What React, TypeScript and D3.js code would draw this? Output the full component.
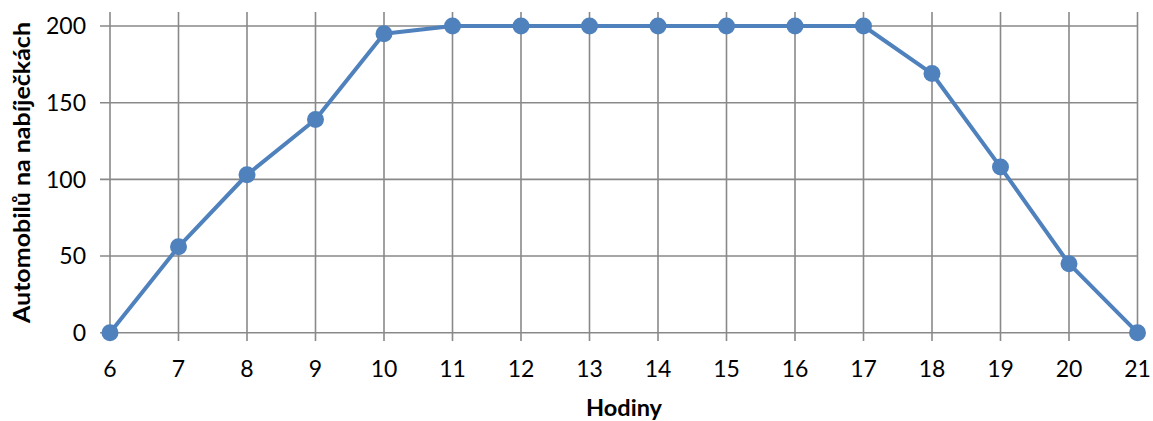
import React from "react";
import * as d3 from "d3";

const hours = [6, 7, 8, 9, 10, 11, 12, 13, 14, 15, 16, 17, 18, 19, 20, 21];
const cars = [0, 56, 103, 139, 195, 200, 200, 200, 200, 200, 200, 200, 169, 108, 45, 0];
const yTicks = [0, 50, 100, 150, 200];
const xTitle = "Hodiny";
const yTitle = "Automobilů na nabíječkách";

export default function App() {
  const W = 1153, H = 421;
  const x = d3.scaleLinear().domain([6, 21]).range([110, 1137.5]);
  const y = d3.scaleLinear().domain([0, 200]).range([332.7, 26]);
  const line = d3.line<number>().x((_, i) => x(hours[i])).y((d) => y(d));
  const font = "Lato, 'Open Sans', sans-serif";
  const grid = "#898989";
  const blue = "#4F81BD";
  return (
    <svg width={W} height={H} style={{ position: "absolute", left: 0, top: 0, background: "#fff" }} fontFamily={font}>
      {hours.map((h) => (
        <line key={"v" + h} x1={x(h)} x2={x(h)} y1={12} y2={341} stroke={grid} strokeWidth={1.6} />
      ))}
      {yTicks.map((t) => (
        <line key={"h" + t} x1={100} x2={x(21)} y1={y(t)} y2={y(t)} stroke={grid} strokeWidth={1.6} />
      ))}
      {yTicks.map((t) => (
        <text key={"yl" + t} x={86} y={y(t) + 8.3} textAnchor="end" fontSize={23} fill="#000">{t}</text>
      ))}
      {hours.map((h) => (
        <text key={"xl" + h} x={x(h)} y={376.5} textAnchor="middle" fontSize={23} fill="#000">{h}</text>
      ))}
      <path d={line(cars) || ""} fill="none" stroke={blue} strokeWidth={4} strokeLinejoin="round" />
      {cars.map((c, i) => (
        <circle key={"p" + i} cx={x(hours[i])} cy={y(c)} r={8.5} fill={blue} />
      ))}
      <text x={624} y={416} textAnchor="middle" fontSize={22} fontWeight="bold" fill="#000" textLength={76} lengthAdjust="spacingAndGlyphs">{xTitle}</text>
      <text transform={`translate(30,172.5) rotate(-90)`} textAnchor="middle" fontSize={22} fontWeight="bold" fill="#000" textLength={301} lengthAdjust="spacingAndGlyphs">{yTitle}</text>
    </svg>
  );
}
